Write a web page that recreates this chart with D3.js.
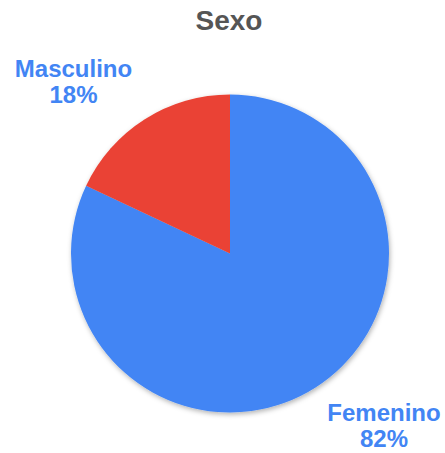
<!DOCTYPE html>
<html lang="en">
<head>
<meta charset="utf-8">
<script src="https://d3js.org/d3.v7.min.js"></script>
<title>Sexo</title>
<style>
  body { margin: 0; background: #fff; }
  text { font-family: "Liberation Sans", Arial, sans-serif; font-weight: bold; }
</style>
</head>
<body>
<script>
// data
const categories = ["Femenino", "Masculino"];
const values = [82, 18];
const colors = ["#4285F4", "#EA4335"];
const title = "Sexo";

// dimensions
const width = 445, height = 453;
const cx = 230, cy = 253.5, radius = 159;

const svg = d3.select("body").append("svg")
    .attr("width", width)
    .attr("height", height);

// soft shadow like the original
const defs = svg.append("defs");
defs.append("filter")
    .attr("id", "shadow")
    .attr("x", "-20%").attr("y", "-20%")
    .attr("width", "140%").attr("height", "140%")
  .append("feDropShadow")
    .attr("dx", 1).attr("dy", 2)
    .attr("stdDeviation", 2.5)
    .attr("flood-color", "#000")
    .attr("flood-opacity", 0.3);

svg.append("text")
    .attr("x", 229)
    .attr("y", 30)
    .attr("text-anchor", "middle")
    .style("font-size", "28px")
    .style("fill", "#555")
    .text(title);

const data = categories.map(function(c, i) { return {name: c, value: values[i], color: colors[i]}; });

const pie = d3.pie().sort(null).value(function(d) { return d.value; });
const arc = d3.arc().innerRadius(0).outerRadius(radius);

const g = svg.append("g")
    .attr("transform", "translate(" + cx + "," + cy + ")")
    .attr("filter", "url(#shadow)");

g.selectAll("path")
  .data(pie(data))
  .enter().append("path")
    .attr("d", arc)
    .attr("fill", function(d) { return d.data.color; });

// label spots (layout only)
const labelPos = {
  "Femenino": {x: 384, y: 421},
  "Masculino": {x: 73.5, y: 77}
};

const total = d3.sum(values);
const labels = svg.selectAll(".lbl")
  .data(data)
  .enter().append("text")
    .attr("class", "lbl")
    .attr("text-anchor", "middle")
    .style("font-size", "24px")
    .style("fill", "#4285F4");

labels.append("tspan")
    .attr("x", function(d) { return labelPos[d.name].x; })
    .attr("y", function(d) { return labelPos[d.name].y; })
    .text(function(d) { return d.name; });
labels.append("tspan")
    .attr("x", function(d) { return labelPos[d.name].x; })
    .attr("y", function(d) { return labelPos[d.name].y + 26; })
    .text(function(d) { return Math.round(d.value / total * 100) + "%"; });
</script>
</body>
</html>
